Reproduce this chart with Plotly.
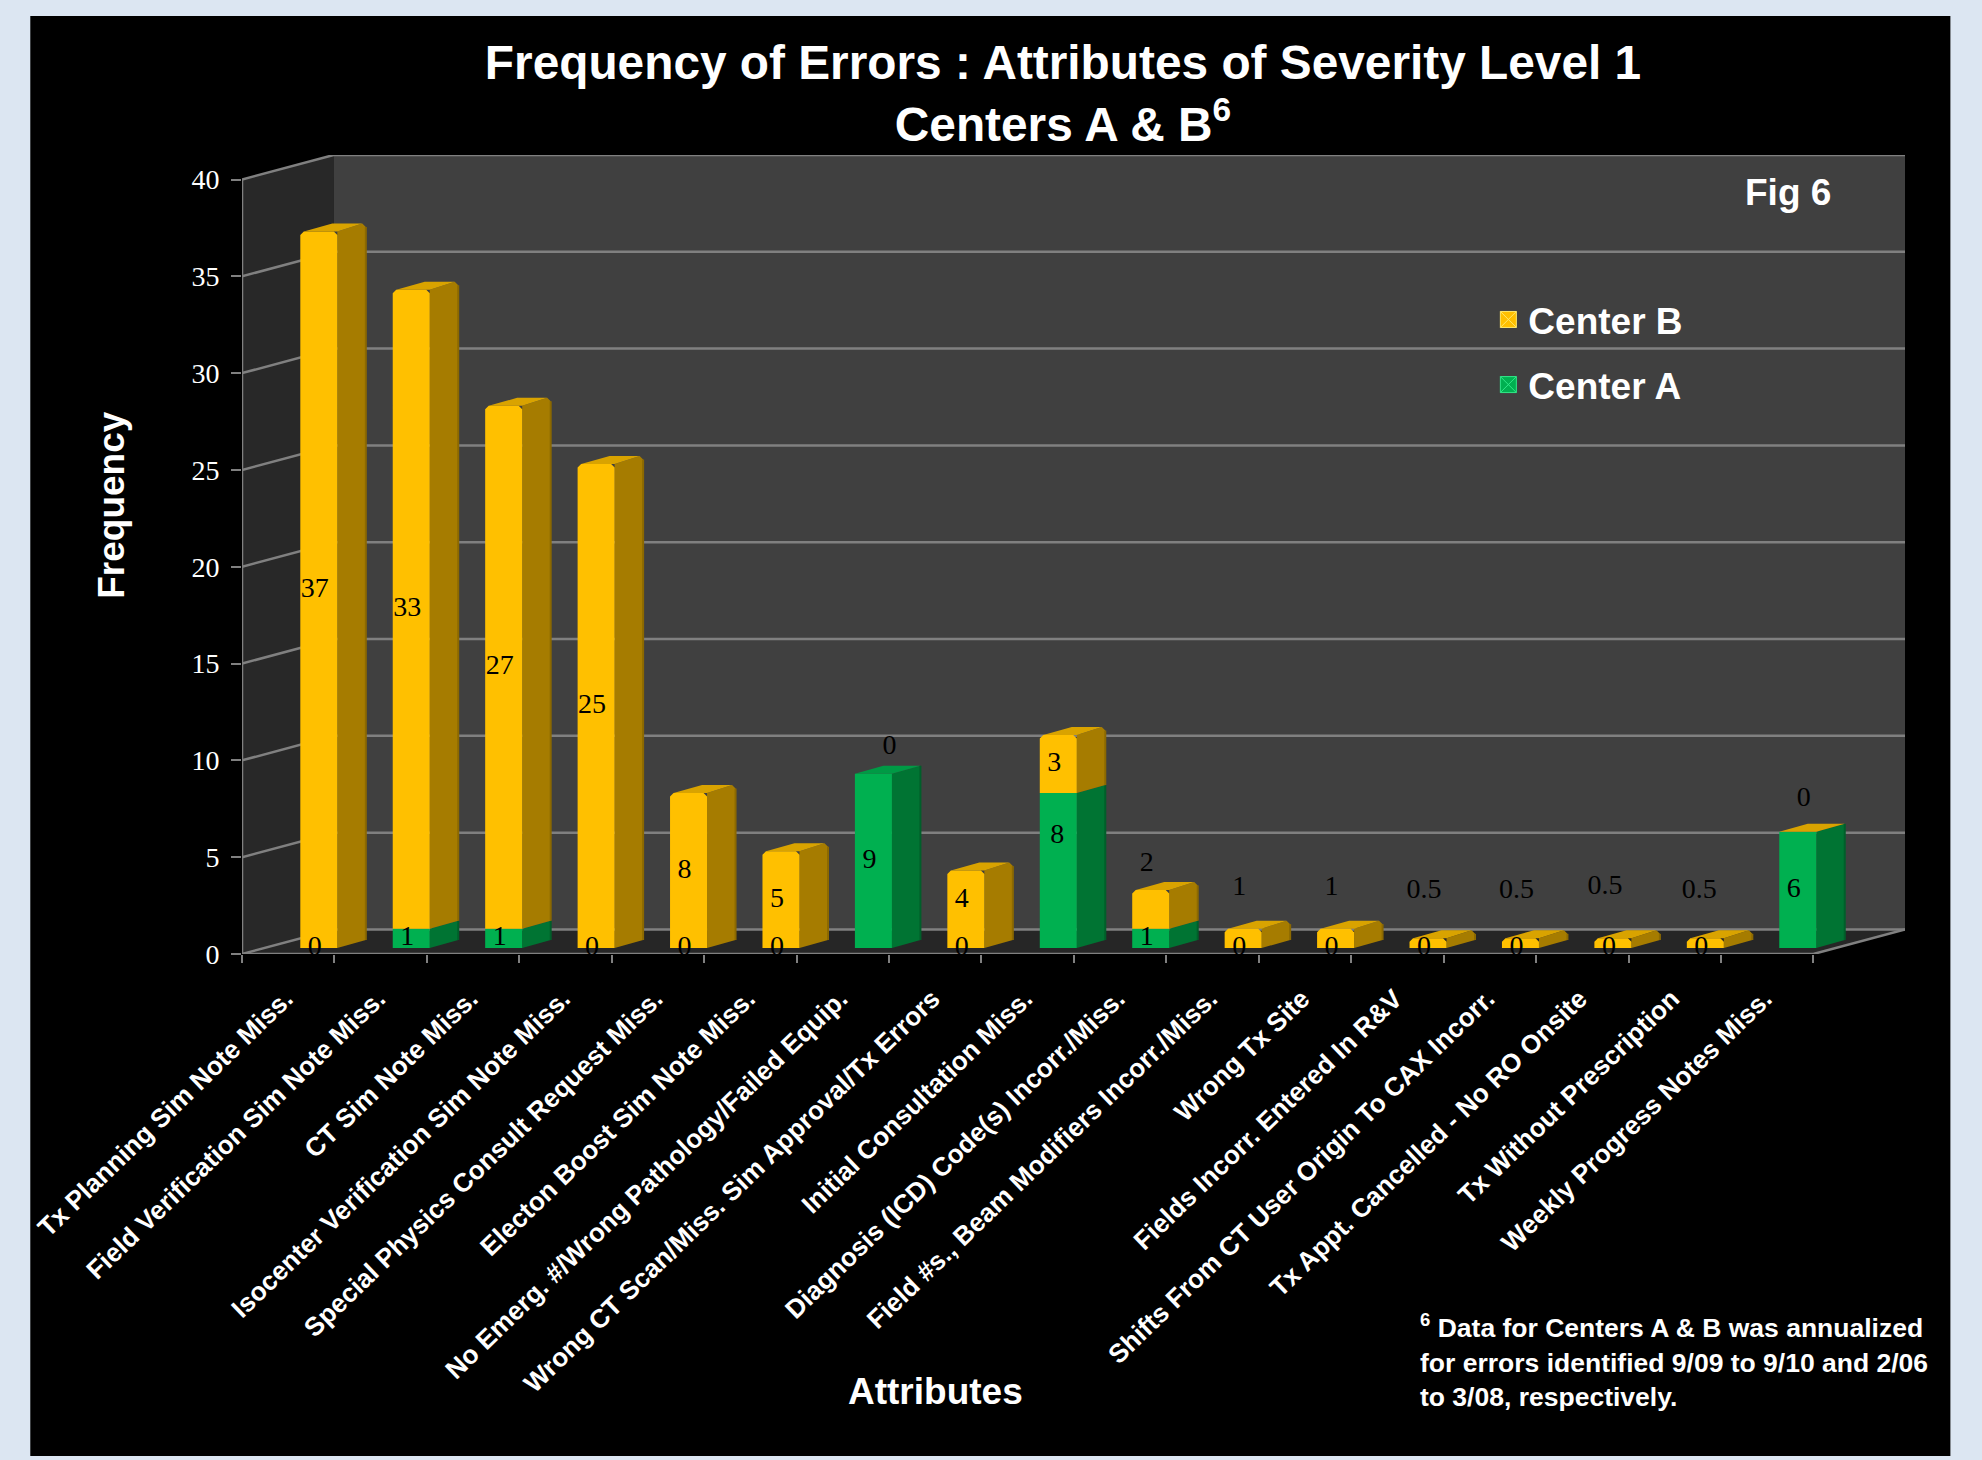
import plotly.graph_objects as go

# --- chart values ---
ATTRIBUTES = [
    "Tx Planning Sim Note Miss.", "Field Verification Sim Note Miss.", "CT Sim Note Miss.",
    "Isocenter Verification Sim Note Miss.", "Special Physics Consult Request Miss.",
    "Electon Boost Sim Note Miss.", "No Emerg. #/Wrong Pathology/Failed Equip.",
    "Wrong CT Scan/Miss. Sim Approval/Tx Errors", "Initial Consultation Miss.",
    "Diagnosis (ICD) Code(s) Incorr./Miss.", "Field #s., Beam Modifiers Incorr./Miss.",
    "Wrong Tx Site", "Fields Incorr. Entered In R&V", "Shifts From CT User Origin To CAX Incorr.",
    "Tx Appt. Cancelled - No RO Onsite", "Tx Without Prescription", "Weekly Progress Notes Miss.",
]
CENTER_A = [0, 1, 1, 0, 0, 0, 9, 0, 8, 1, 0, 0, 0, 0, 0, 0, 6]
CENTER_B = [37, 33, 27, 25, 8, 5, 0, 4, 3, 2, 1, 1, 0.5, 0.5, 0.5, 0.5, 0]
Y_TICKS = [0, 5, 10, 15, 20, 25, 30, 35, 40]

# --- canvas and projection of the pseudo-3D box, in pixels ---
W, H = 1982, 1460
LEFT_PX, FRONT_Y_PX = 241.7, 954.0
UNIT_X, UNIT_Y = 92.43, 19.36          # pixels per category / per frequency unit
WALL_DX, WALL_DY = 91.6, 24.5          # floor depth
BAR_INSET, BAR_W = 58.3, 37.0          # bar front face inside its category slot
BAR_LIFT, BAR_DX, BAR_DY = 6.0, 28.5, 8.0
BEVEL = 3.5

n = len(ATTRIBUTES)
wall_x = WALL_DX / UNIT_X
wall_y = WALL_DY / UNIT_Y
x_lo, x_front = -0.5, n - 0.5
x_hi = x_front + wall_x
y_hi = Y_TICKS[-1] + wall_y
RIGHT_PX = LEFT_PX + UNIT_X * (x_hi - x_lo)
TOP_PX = FRONT_Y_PX - UNIT_Y * y_hi

GOLD, GOLD_SIDE, GOLD_TOP = "#FFC000", "#A67C00", "#D9A300"
GREEN, GREEN_SIDE, GREEN_TOP = "#00B050", "#007433", "#009A45"
GRID = "#808080"


def fx(px):
    """Page pixel to paper fraction of the plot area."""
    return (px - LEFT_PX) / (RIGHT_PX - LEFT_PX)


def fy(py):
    return (FRONT_Y_PX - py) / (FRONT_Y_PX - TOP_PX)


def polygons(shapes):
    xs, ys = [], []
    for s in shapes:
        xs += [p[0] for p in s] + [s[0][0], None]
        ys += [p[1] for p in s] + [s[0][1], None]
    return xs, ys


def face(shapes, color, name):
    xs, ys = polygons(shapes)
    return go.Scatter(x=xs, y=ys, mode="lines", fill="toself", fillcolor=color,
                      line=dict(width=0, color=color), hoverinfo="skip",
                      showlegend=False, name=name)


def line(xs, ys, width=2.5, color=GRID):
    return go.Scatter(x=xs, y=ys, mode="lines", line=dict(color=color, width=width),
                      hoverinfo="skip", showlegend=False, cliponaxis=False)


fig = go.Figure()

# walls and floor of the box
fig.add_trace(face([[(x_lo, 0), (x_lo + wall_x, wall_y), (x_lo + wall_x, y_hi), (x_lo, Y_TICKS[-1])]],
                   "#282828", "left wall"))
fig.add_trace(face([[(x_lo + wall_x, wall_y), (x_hi, wall_y), (x_hi, y_hi), (x_lo + wall_x, y_hi)]],
                   "#404040", "back wall"))
fig.add_trace(face([[(x_lo, 0), (x_front, 0), (x_hi, wall_y), (x_lo + wall_x, wall_y)]],
                   "#262626", "floor"))

# gridlines run along the left wall and then across the back wall
for v in Y_TICKS:
    fig.add_trace(line([x_lo, x_lo + wall_x, x_hi], [v, v + wall_y, v + wall_y]))
fig.add_trace(line([x_lo, x_front, x_hi], [0, 0, wall_y]))
fig.add_trace(line([x_lo, x_lo], [0, Y_TICKS[-1]]))

# stacked bars
lift = BAR_LIFT / UNIT_Y
w = BAR_W / UNIT_X
dx, dy = BAR_DX / UNIT_X, BAR_DY / UNIT_Y
rx, ry = BEVEL / UNIT_X, BEVEL / UNIT_Y

fronts = {"A": [], "B": []}
sides = {"A": [], "B": []}
tops = {"A": [], "B": []}
rims = {"A": ([], []), "B": ([], [])}
for i, (a, b) in enumerate(zip(CENTER_A, CENTER_B)):
    x0 = i - 0.5 + BAR_INSET / UNIT_X
    x1 = x0 + w
    y_a = lift + a
    y_b = y_a + b
    # the last category keeps a gold cap even though Center B is zero there
    cap = "A" if b == 0 and i != n - 1 else "B"
    r_x, r_y = (rx, ry) if b > 0 else (0, 0)
    if a > 0:
        fronts["A"].append([(x0, lift), (x1, lift), (x1, y_a), (x0, y_a)])
        sides["A"].append([(x1, lift), (x1 + dx, lift + dy), (x1 + dx, y_a + dy), (x1, y_a)])
        rims["A"][0].extend([x1 + dx, x1 + dx, None])
        rims["A"][1].extend([lift + dy, y_a + dy, None])
    if b > 0:
        fronts["B"].append([(x0, y_a), (x1, y_a), (x1, y_b - r_y), (x1 - r_x, y_b),
                            (x0 + r_x, y_b), (x0, y_b - r_y)])
        sides["B"].append([(x1, y_a), (x1 + dx, y_a + dy), (x1 + dx, y_b + dy - r_y),
                           (x1 + dx - r_x, y_b + dy), (x1, y_b)])
        rims["B"][0].extend([x1 + dx, x1 + dx, None])
        rims["B"][1].extend([y_a + dy, y_b + dy - r_y, None])
    tops[cap].append([(x0 + r_x, y_b), (x1, y_b), (x1 + dx - r_x, y_b + dy), (x0 + dx + r_x, y_b + dy)])

for key, front, side, top in (("A", GREEN, GREEN_SIDE, GREEN_TOP), ("B", GOLD, GOLD_SIDE, GOLD_TOP)):
    fig.add_trace(face(sides[key], side, f"Center {key} side"))
    fig.add_trace(face(tops[key], top, f"Center {key} top"))
    fig.add_trace(face(fronts[key], front, f"Center {key}"))
    rim = "#8C6900" if key == "B" else "#005F2A"
    fig.add_trace(line(rims[key][0], rims[key][1], 2, rim))

# value labels sit on each segment's front face; some are moved clear of short bars (dx, dy in px)
NUDGE_A = {8: (-1, 35)}
NUDGE_B = {6: (16, 27), 7: (-4, 9), 9: (-4, 45), 10: (-4, 50), 11: (-4, 50), 12: (-4, 52),
           13: (-4, 52), 14: (-8, 56), 15: (-6, 52), 16: (6, 33)}


def label_trace(values, bases, nudges):
    xs, ys = [], []
    for i, (v, base) in enumerate(zip(values, bases)):
        ndx, ndy = nudges.get(i, (-4, 0))
        xs.append(i - 0.5 + (BAR_INSET + BAR_W / 2 + ndx) / UNIT_X)
        ys.append(base + v / 2 + ndy / UNIT_Y)
    return go.Scatter(x=xs, y=ys, xaxis="x2", mode="text", text=[f"{v:g}" for v in values],
                      textposition="middle center", cliponaxis=False, hoverinfo="skip", showlegend=False,
                      textfont=dict(family="Liberation Serif", size=28, color="#000000"))


fig.add_trace(label_trace(CENTER_A, [lift] * n, NUDGE_A))
fig.add_trace(label_trace(CENTER_B, [lift + a for a in CENTER_A], NUDGE_B))

# legend keys
for name, fill, edge in (("Center B", "#FFC000", "#FFE86A"), ("Center A", "#00B050", "#30E888")):
    fig.add_trace(go.Scatter(x=[None], y=[None], mode="markers", name=name, legendgroup=name,
                             marker=dict(symbol="square-x", size=20, color=fill,
                                         line=dict(color=edge, width=1))))

TICK_FONT = dict(family="Liberation Serif", size=28, color="#FFFFFF")
BOLD = "Liberation Sans"

fig.update_layout(
    width=W, height=H, autosize=False,
    margin=dict(l=LEFT_PX, r=W - RIGHT_PX, t=TOP_PX, b=H - FRONT_Y_PX, pad=0),
    paper_bgcolor="#DCE6F2", plot_bgcolor="rgba(0,0,0,0)",
    title=dict(text="Frequency of Errors : Attributes of Severity Level 1<br>Centers A & B<sup>6</sup>",
               x=1063 / W, xanchor="center", y=1 - 79 / H, yanchor="top",
               font=dict(family=BOLD, size=47.8, color="#FFFFFF", weight="bold")),
    xaxis=dict(range=[x_lo, x_hi], anchor="y", showgrid=False, zeroline=False, automargin=False,
               tickmode="array", tickvals=[i - 0.5 for i in range(n + 1)], showticklabels=False,
               ticks="outside", ticklen=8, tickwidth=2, tickcolor=GRID),
    xaxis2=dict(range=[x_lo, x_hi], anchor="y", overlaying="x", side="bottom", automargin=False,
                showgrid=False, zeroline=False, tickmode="array", tickvals=[i - 0.03 for i in range(n)],
                ticktext=ATTRIBUTES, tickangle=-44, ticks="outside", ticklen=18, tickcolor="rgba(0,0,0,0)",
                tickfont=dict(family=BOLD, size=26.2, color="#FFFFFF", weight="bold")),
    yaxis=dict(range=[0, y_hi], showgrid=False, zeroline=False, tickmode="array", automargin=False,
               tickvals=Y_TICKS, ticks="outside", ticklen=10, tickwidth=2, tickcolor=GRID,
               ticklabelstandoff=6, tickfont=TICK_FONT),
    legend=dict(x=fx(1488), y=fy(289), xanchor="left", yanchor="top", bgcolor="rgba(0,0,0,0)",
                itemwidth=30, tracegroupgap=14, traceorder="grouped",
                font=dict(family=BOLD, size=37, color="#FFFFFF", weight="bold")),
    shapes=[dict(type="rect", xref="paper", yref="paper", layer="below", line_width=0,
                 fillcolor="#000000", x0=fx(30), x1=fx(1950), y0=fy(1456), y1=fy(16))],
    annotations=[
        dict(text="<b>Frequency</b>", xref="paper", yref="paper", x=fx(134), y=fy(505), textangle=-90,
             xanchor="right", showarrow=False, font=dict(family=BOLD, size=37, color="#FFFFFF")),
        dict(text="<b>Attributes</b>", xref="paper", yref="paper", x=fx(935), y=fy(1414),
             showarrow=False, font=dict(family=BOLD, size=37, color="#FFFFFF")),
        dict(text="<b>Fig 6</b>", xref="paper", yref="paper", x=fx(1833), y=fy(170),
             showarrow=False, font=dict(family=BOLD, size=37, color="#FFFFFF")),
        dict(text="<b><sup>6</sup> Data for Centers A & B was annualized<br>for errors identified 9/09 to 9/10 and 2/06"
                  "<br>to 3/08, respectively.</b>",
             xref="paper", yref="paper", x=fx(1418), y=fy(1307), xanchor="left", yanchor="top",
             align="left", showarrow=False, font=dict(family=BOLD, size=26.5, color="#FFFFFF")),
    ],
)

fig.write_html("out.html")
